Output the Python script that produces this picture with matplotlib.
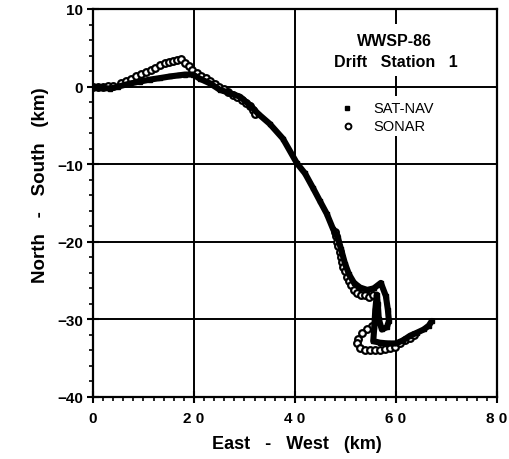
import matplotlib
matplotlib.use("Agg")
import matplotlib.pyplot as plt
from matplotlib.patches import Rectangle
from matplotlib.ticker import MultipleLocator

plt.rcParams["font.family"] = ["Liberation Sans", "DejaVu Sans"]

# SAT-NAV fixes (km east-west, km north-south)
satnav_x = [0.0, 1.4, 3.4, 5.0, 7.3, 9.3, 11.3, 13.3, 15.2, 17.0, 18.2, 19.8,
            21.2, 23.2, 25.1, 27.1, 29.1, 31.1, 32.7, 35.0, 37.6, 40.4, 42.0,
            43.6, 44.9, 46.3, 47.5, 48.5, 49.1, 49.9, 50.7, 51.7, 52.9, 54.3,
            55.6, 57.0, 58.0, 58.4, 58.6, 58.2, 57.2, 56.6, 56.4, 56.2, 55.9,
            55.7, 55.5, 56.8, 58.4, 60.0, 61.4, 62.8, 64.2, 65.5, 66.5, 67.1]
satnav_y = [0.0, -0.13, -0.26, 0.0, 0.39, 0.65, 0.9, 1.1, 1.3, 1.45, 1.55,
            1.55, 1.0, 0.4, -0.4, -0.85, -1.3, -2.4, -3.5, -4.8, -6.7, -9.9,
            -11.2, -13.1, -14.7, -16.4, -18.3, -19.5, -20.9, -22.8, -24.2,
            -25.3, -25.9, -26.2, -26.0, -25.3, -27.0, -28.8, -30.2, -31.0,
            -31.3, -30.0, -28.0, -26.8, -28.8, -31.0, -32.8, -33.0, -33.1,
            -33.1, -32.7, -32.1, -31.7, -31.3, -30.8, -30.2]

# SONAR fixes
sonar_x = [0.0, 1.0, 2.0, 3.0, 4.0, 5.5, 6.5, 7.5, 8.5, 9.5, 10.5, 11.4,
           12.3, 13.3, 14.3, 15.1, 15.8, 16.7, 17.5, 18.3, 19.0, 19.7, 20.5,
           21.4, 22.3, 23.2, 24.1, 25.0, 25.9, 26.8, 27.7, 28.6, 29.5, 30.3,
           31.0, 31.6, 32.1,
           47.9, 48.1, 48.3, 48.5, 48.9, 49.1, 49.3, 49.5, 49.9, 50.3, 50.7,
           51.1, 51.7, 52.3, 53.1, 53.9, 54.7, 55.5,
           55.2, 54.2, 53.2, 52.5, 52.3, 52.9, 53.9, 54.9, 55.8, 56.8, 57.8,
           58.8, 59.8, 60.8, 61.8, 62.8, 63.6]
sonar_y = [0.0, 0.0, 0.0, 0.05, 0.1, 0.5, 0.75, 1.0, 1.35, 1.65, 1.9, 2.2,
           2.45, 2.75, 3.0, 3.2, 3.35, 3.45, 3.5, 3.1, 2.6, 2.2, 1.8, 1.4,
           1.05, 0.7, 0.35, 0.0, -0.35, -0.7, -1.05, -1.4, -1.75, -2.15,
           -2.55, -3.0, -3.5,
           -18.7, -19.3, -20.0, -20.6, -21.3, -21.9, -22.6, -23.2, -23.8,
           -24.5, -25.1, -25.6, -26.2, -26.6, -26.8, -26.9, -27.1, -26.9,
           -30.8, -31.3, -31.8, -32.5, -33.1, -33.7, -33.9, -34.0, -34.0,
           -33.9, -33.8, -33.7, -33.5, -33.1, -32.7, -32.4, -32.0]

x_ticks = [0, 20, 40, 60, 80]
x_tick_labels = ["0", "2 0", "4 0", "6 0", "8 0"]
y_ticks = [-40, -30, -20, -10, 0, 10]

fig = plt.figure(figsize=(5.09, 4.60), dpi=100)
ax = fig.add_axes([0.1827, 0.1348, 0.7937, 0.8435])

ax.plot(sonar_x, sonar_y, linestyle="none", marker="o", ms=4.8,
        mfc="white", mec="black", mew=1.6, zorder=3)
ax.plot(satnav_x, satnav_y, color="black", lw=4.4, marker="s", ms=3.4,
        solid_joinstyle="round", solid_capstyle="round", zorder=4)

ax.set_xlim(0, 80)
ax.set_ylim(-40, 10)
ax.set_xticks(x_ticks)
ax.set_xticklabels(x_tick_labels)
ax.set_yticks(y_ticks)
ax.xaxis.set_minor_locator(MultipleLocator(2))
ax.yaxis.set_minor_locator(MultipleLocator(2))
ax.grid(True, which="major", color="black", lw=1.4)
ax.set_axisbelow(True)
for s in ax.spines.values():
    s.set_linewidth(1.6)

ax.tick_params(which="major", direction="inout", length=8, width=1.5,
               labelsize=11)
ax.tick_params(which="minor", direction="out", length=3, width=1.2)
ax.tick_params(axis="x", which="major", pad=6)
ax.tick_params(axis="y", which="major", pad=3)
for lab in ax.get_xticklabels() + ax.get_yticklabels():
    lab.set_fontweight("bold")

ax.set_xlabel("East   -   West   (km)", fontsize=13, fontweight="bold")
ax.set_ylabel("North   -   South   (km)", fontsize=13.5, fontweight="bold")
ax.xaxis.set_label_coords(0.505, -0.121)
ax.yaxis.set_label_coords(-0.131, 0.549)
ax.xaxis.label.set_va("center")
ax.yaxis.label.set_va("center")

# title block and key, knocked out of the grid
ax.add_patch(Rectangle((0.574, 0.827), 0.354, 0.134, transform=ax.transAxes,
                       facecolor="white", edgecolor="none", zorder=5))
ax.add_patch(Rectangle((0.611, 0.673), 0.260, 0.103, transform=ax.transAxes,
                       facecolor="white", edgecolor="none", zorder=5))
ax.text(0.7475, 0.9175, "WWSP-86", transform=ax.transAxes, ha="center",
        va="center", fontsize=11.5, fontweight="bold", zorder=6)
ax.text(0.749, 0.8634, "Drift   Station   1", transform=ax.transAxes,
        ha="center", va="center", fontsize=11.5, fontweight="bold", zorder=6)
ax.plot([0.629], [0.745], transform=ax.transAxes, marker="s", ms=3,
        color="black", zorder=6)
ax.plot([0.631], [0.699], transform=ax.transAxes, marker="o", ms=4.2,
        mfc="white", mec="black", mew=1.4, zorder=6)
ax.text(0.693, 0.745, "SAT-NAV", transform=ax.transAxes, ha="left",
        va="center", fontsize=10.5, zorder=6)
ax.text(0.693, 0.699, "SONAR", transform=ax.transAxes, ha="left",
        va="center", fontsize=10.5, zorder=6)

fig.savefig("out.png", dpi=100)
